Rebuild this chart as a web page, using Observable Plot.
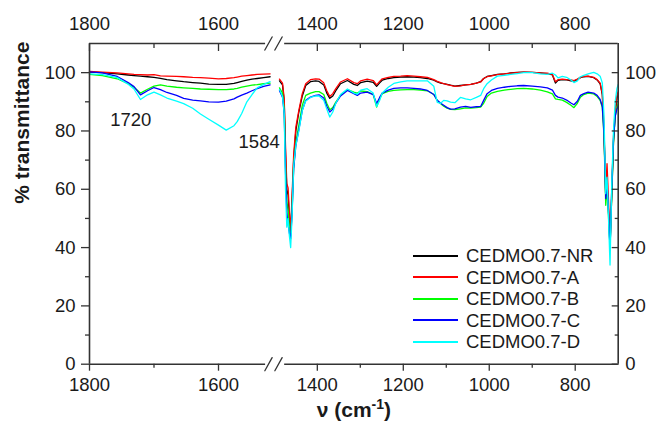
<!DOCTYPE html>
<html><head><meta charset="utf-8">
<script src="https://cdn.jsdelivr.net/npm/d3@7"></script>
<script src="https://cdn.jsdelivr.net/npm/@observablehq/plot@0.6"></script>
<style>
html,body{margin:0;padding:0;background:#fff;}
#wrap{position:relative;width:656px;height:429px;font-family:"Liberation Sans",Arial,sans-serif;}
#legend{position:absolute;left:413px;top:245px;}
.row{display:flex;align-items:center;height:21.5px;}
.sw{width:45px;height:0;border-top:2px solid;margin-right:8px;}
.lab{font-size:18.5px;color:#1a1a1a;white-space:nowrap;line-height:21.5px;}
</style></head><body><div id="wrap"></div>
<script>
// ---- data ----
const seriesNames = ["CEDMO0.7-NR","CEDMO0.7-A","CEDMO0.7-B","CEDMO0.7-C","CEDMO0.7-D"];
const seriesColors = ["#000000","#ff0000","#00ff00","#0000ff","#00ffff"];

const wnLeft = [1800,1780,1757,1740,1731,1721,1710,1700,1690,1680,1665,1654,1640,1628,1615,1600,1588,1576,1571,1564,1556,1548,1540,1530,1520];
const nrLeft = [100.2,100.0,99.6,99.2,99.0,98.8,98.6,98.4,98.0,97.6,97.2,96.9,96.6,96.4,96.1,96.0,96.0,96.3,96.6,97.0,97.4,97.8,98.0,98.3,98.6];
const aLeft  = [100.4,100.2,99.9,99.6,99.4,99.3,99.2,99.3,98.9,98.8,98.7,98.6,98.4,98.3,98.1,97.9,98.0,98.3,98.5,98.8,99.0,99.2,99.4,99.5,99.6];
const bLeft  = [99.4,99.0,97.9,96.2,95.0,93.0,94.3,95.4,95.8,95.4,95.0,94.8,94.6,94.4,94.3,94.2,94.2,94.4,94.6,95.0,95.4,95.7,95.9,96.2,96.4];
const cLeft  = [100.3,99.9,98.7,96.6,95.2,92.4,93.8,94.9,94.2,93.2,92.2,91.2,90.6,90.3,90.0,89.9,90.2,91.0,91.6,92.3,93.0,93.8,94.5,95.3,95.8];
const dLeft  = [99.6,99.3,98.3,96.0,94.4,90.8,92.4,93.3,92.4,91.3,90.2,89.4,87.8,85.8,84.0,82.0,80.3,81.8,83.2,86.0,90.0,92.5,94.8,96.0,96.9];

const wnRight = [1488,1481,1477,1474,1471,1468,1465,1462,1459,1455,
  1450,1443,1435,1427,1416,1404,1396,1385,1378,1371,
  1364,1357,1346,1330,1315,1307,1299,1284,1270,1262,
  1255,1249,1235,1222,1206,1191,1175,1160,1144,1129,
  1121,1113,1106,1098,1090,1080,1067,1055,1043,1030,
  1020,1013,1005,995,981,965,950,935,920,900,
  881,865,853,846,840,830,820,810,803,795,
  788,780,770,757,749,742,737,733,729,726,
  723,719,715,711,707,703,700];
const nrRight = [97.2,95.8,90,72,60,58,50,45,55,70,
  80,86.5,92,95.6,96.9,97.2,97.0,95.8,93.0,91.2,
  92.0,93.8,96.2,97.3,96.0,95.6,96.6,97.1,96.7,95.3,
  96.5,97.4,98.0,98.3,98.5,98.6,98.5,98.3,98.0,97.4,
  96.8,96.4,96.2,96.0,95.7,95.4,95.6,95.8,96.0,96.4,
  96.9,98.0,98.7,99.0,99.4,99.6,99.9,100.1,100.2,100.1,
  99.9,99.7,99.2,96.4,97.4,97.6,97.5,97.2,97.1,97.6,
  98.3,98.6,98.7,98.3,97.5,96.2,92.5,80,57,62,
  54,40,58,76,86,91,93];
const aRight = [97.8,96.4,91,75,62,60.5,52,46,57,72,
  81.3,87.1,92.8,96.2,97.6,97.9,97.8,96.5,93.8,91.8,
  92.8,94.5,96.8,97.9,96.6,96.2,97.2,97.8,97.3,95.8,
  97.0,97.9,98.4,98.7,98.8,99.0,98.8,98.6,98.4,97.6,
  97.0,96.6,96.2,95.9,95.6,95.3,95.5,95.8,96.0,96.4,
  96.8,98.0,98.6,98.9,99.3,99.6,99.8,100.0,100.2,100.1,
  99.9,99.8,99.4,96.9,97.6,97.8,97.6,97.5,97.3,97.8,
  98.4,98.7,98.8,98.4,97.6,96.4,92.8,81,60,68.8,
  58,41,60,78,87,92,93.5];
const bRight = [94.8,93.0,87,68,56,52.7,46,44,52,68,
  76,82,88.8,92.2,93.0,93.5,93.5,92.5,89.5,87.3,
  88.0,89.9,92.2,94.2,93.3,93.0,93.7,93.5,92.5,88.2,
  91.0,92.8,93.6,93.9,94.1,94.2,94.2,94.0,93.8,92.5,
  90.5,89.3,88.5,87.8,87.4,87.3,87.6,87.9,87.8,88.0,
  88.2,89.5,91.8,93.0,93.6,94.0,94.3,94.5,94.6,94.4,
  94.0,93.4,92.7,91.0,90.8,90.6,89.8,88.8,88.0,89.5,
  91.6,92.5,93.0,92.7,91.8,90.5,88.0,78,54.5,60,
  52,40,58,76,85,88,89.5];
const cRight = [93.8,91.6,86,66,52,48,45,43,51,67,
  75,80.5,87.1,90.5,91.6,92.2,92.4,91.3,88.5,86.5,
  87.5,89.5,92.0,93.9,92.8,92.2,93.0,93.3,92.5,89.4,
  91.5,93.0,94.0,94.6,94.8,94.8,94.6,94.4,93.9,92.5,
  90.5,89.5,88.8,88.0,87.5,87.6,88.2,88.4,88.1,88.3,
  88.4,90.5,92.8,93.9,94.6,95.0,95.3,95.5,95.6,95.4,
  95.1,94.8,94.0,92.2,91.6,91.3,90.6,89.6,89.0,90.2,
  92.2,92.8,93.3,93.0,92.2,90.8,88.5,79,56.8,62,
  54,39,60,77,85,87.5,88.5];
const dRight = [94.2,91.8,86,60,47,50,44,40,50,68,
  75,80,87,90.3,91.5,92.0,92.0,90.5,87.5,84.8,
  86.5,89.5,92.5,94.4,93.0,92.6,94.0,94.5,93.0,88.4,
  90.5,93.0,95.0,96.3,96.8,97.2,97.2,97.2,97.2,95.3,
  89.8,89.5,90.5,90.3,89.9,89.7,91.5,91.0,90.7,91.5,
  92.2,94.5,96.2,97.5,98.8,99.1,99.4,99.7,100.0,100.0,
  99.6,99.4,99.8,99.2,98.2,98.7,98.4,97.5,96.6,97.2,
  98.6,99.1,99.6,100.1,99.6,98.8,96.5,85,58.5,64.2,
  52,34,62,80,90,94.5,96];

const xMajorTicks = [1800,1600,1400,1200,1000,800];
const xMinorTicks = [1700,1300,1100,900];
const yMajorTicks = [0,20,40,60,80,100];
const yMinorTicks = [10,30,50,70,90];

const annotLabels = ["1720","1584"];
const annotX = [1736,1537];
const annotY = [83.6,76.2];

// ---- scale / break geometry ----
const xDomain = [1800,1520,1488,700];
const xRange = [89,269.6,279,617.7];
const yDomain = [0,110];
const breakLineLeftEnd = 1527, breakLineRightStart = 1476;
const breakSlashX = [1522.5,1491.4];

const leftVals = [nrLeft,aLeft,bLeft,cLeft,dLeft];
const rightVals = [nrRight,aRight,bRight,cRight,dRight];
const rows = [];
seriesNames.forEach((name,i)=>{
  wnLeft.forEach((w,j)=>rows.push({series:name,seg:"L",wn:w,t:leftVals[i][j]}));
  wnRight.forEach((w,j)=>rows.push({series:name,seg:"R",wn:w,t:rightVals[i][j]}));
});

const axisSegments = [];
for (const yv of yDomain) {
  axisSegments.push({y:yv,x1:xDomain[0],x2:breakLineLeftEnd});
  axisSegments.push({y:yv,x1:breakLineRightStart,x2:xDomain[xDomain.length-1]});
}

const axisColor = "#333";
const textColor = "#1a1a1a";
const blank = () => "";
const plain = d => String(d);
const fs = 18.5;

let slashMarks;
try {
  const shape = {draw(ctx,l){ctx.moveTo(0,0);ctx.lineTo(0,-l);}};
  slashMarks = ["top","bottom"].map(fa => Plot.vector(breakSlashX,{x:d=>d,frameAnchor:fa,length:15,rotate:29,anchor:"middle",shape,stroke:axisColor,strokeWidth:1.3}));
} catch(e) {
  slashMarks = ["top","bottom"].map(fa => Plot.text([breakSlashX[0]],{x:d=>d,frameAnchor:fa,text:()=>"//",fontSize:18,fill:axisColor}));
}

const chart = Plot.plot({
  width:656, height:429,
  marginLeft:89, marginRight:38.3, marginTop:43, marginBottom:65.3,
  x:{type:"linear", domain:xDomain, range:xRange, label:null},
  y:{domain:yDomain, label:null},
  color:{domain:seriesNames, range:seriesColors},
  style:{fontFamily:"'Liberation Sans', Arial, sans-serif", fontSize:"18px", background:"white", color:textColor},
  marks:[
    Plot.line(rows,{x:"wn",y:"t",z:d=>d.series+"|"+d.seg,stroke:"series",strokeWidth:1.3}),
    Plot.ruleX([xDomain[0],xDomain[xDomain.length-1]],{stroke:axisColor,strokeWidth:1.6}),
    Plot.ruleY(axisSegments,{y:"y",x1:"x1",x2:"x2",stroke:axisColor,strokeWidth:1.6}),
    ...slashMarks,
    // bottom
    Plot.axisX(xMajorTicks,{anchor:"bottom",tickSize:7,tickPadding:7,tickFormat:plain,color:axisColor,fill:textColor,fontSize:fs,label:null,strokeWidth:1.3}),
    Plot.axisX(xMinorTicks,{anchor:"bottom",tickSize:4,tickFormat:blank,color:axisColor,label:null,strokeWidth:1.3}),
    // top (inward ticks)
    Plot.axisX(xMajorTicks,{anchor:"top",tickSize:7,dy:7,tickFormat:blank,color:axisColor,label:null,strokeWidth:1.3}),
    Plot.axisX(xMinorTicks,{anchor:"top",tickSize:4,dy:4,tickFormat:blank,color:axisColor,label:null,strokeWidth:1.3}),
    Plot.axisX(xMajorTicks,{anchor:"top",tickSize:0,tickPadding:13.5,tickFormat:plain,fill:textColor,fontSize:fs,label:null}),
    // left
    Plot.axisY(yMajorTicks,{anchor:"left",tickSize:8,tickPadding:6,tickFormat:plain,color:axisColor,fill:textColor,fontSize:fs,label:null,strokeWidth:1.3}),
    Plot.axisY(yMinorTicks,{anchor:"left",tickSize:4,tickFormat:blank,color:axisColor,label:null,strokeWidth:1.3}),
    // right (inward ticks)
    Plot.axisY(yMajorTicks,{anchor:"right",tickSize:7,dx:-7,tickFormat:blank,color:axisColor,label:null,strokeWidth:1.3}),
    Plot.axisY(yMinorTicks,{anchor:"right",tickSize:4,dx:-4,tickFormat:blank,color:axisColor,label:null,strokeWidth:1.3}),
    Plot.axisY(yMajorTicks,{anchor:"right",tickSize:0,tickPadding:7,tickFormat:plain,fill:textColor,fontSize:fs,label:null}),
    // annotations
    Plot.text(annotLabels,{x:(d,i)=>annotX[i],y:(d,i)=>annotY[i],text:d=>d,fontSize:fs,fill:textColor}),
    // axis titles
    Plot.text(["% transmittance"],{frameAnchor:"left",dx:-67,rotate:-90,text:d=>d,fontWeight:"bold",fontSize:21,fill:textColor}),
    Plot.text(["ν (cm-1)"],{frameAnchor:"bottom",dy:53,text:d=>d,fontWeight:"bold",fontSize:21,fill:textColor})
  ]
});

// superscript for the x title
chart.querySelectorAll("text").forEach(t=>{
  if (t.textContent === "ν (cm-1)") {
    while (t.firstChild) t.removeChild(t.firstChild);
    const ns = "http://www.w3.org/2000/svg";
    t.appendChild(document.createTextNode("ν (cm"));
    const s = document.createElementNS(ns,"tspan");
    s.setAttribute("dy","-8"); s.setAttribute("font-size","14"); s.textContent = "-1";
    t.appendChild(s);
    const c = document.createElementNS(ns,"tspan");
    c.setAttribute("dy","8"); c.textContent = ")";
    t.appendChild(c);
  }
});

const wrap = document.getElementById("wrap");
wrap.appendChild(chart);

const legend = document.createElement("div");
legend.id = "legend";
seriesNames.forEach((n,i)=>{
  const r = document.createElement("div"); r.className = "row";
  const sw = document.createElement("div"); sw.className = "sw"; sw.style.borderTopColor = seriesColors[i];
  const lb = document.createElement("div"); lb.className = "lab"; lb.textContent = n;
  r.appendChild(sw); r.appendChild(lb); legend.appendChild(r);
});
wrap.appendChild(legend);
</script></body></html>
